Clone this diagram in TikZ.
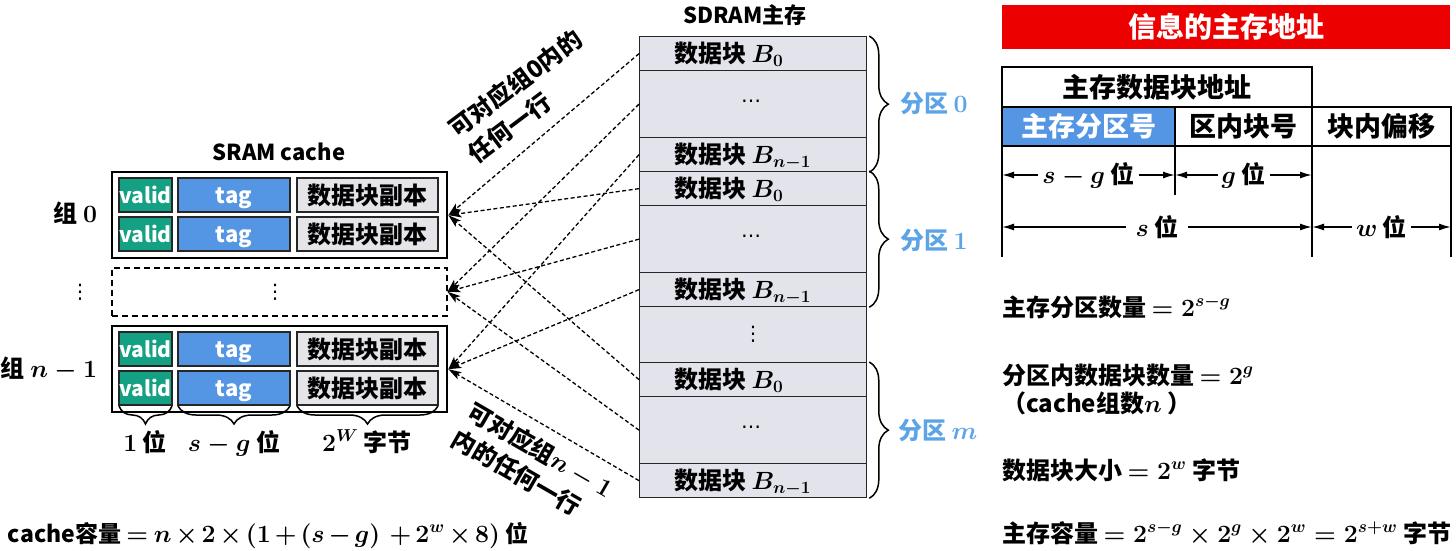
\documentclass[tikz,border=0pt]{standalone}
\usepackage{amsmath}
\usepackage[no-math]{fontspec}
\setmainfont{Noto Sans CJK SC}
\newfontfamily\dejavu{DejaVu Sans}
\usetikzlibrary{decorations.pathreplacing,arrows.meta}
\definecolor{validc}{RGB}{20,160,130}
\definecolor{tagc}{RGB}{84,150,228}
\definecolor{datac}{RGB}{228,228,233}
\definecolor{rowc}{RGB}{227,227,236}
\definecolor{partc}{RGB}{92,164,230}
\definecolor{bannerc}{RGB}{236,0,0}
\begin{document}
\boldmath
\begin{tikzpicture}[x=1pt,y=-1pt,
  base/.style={inner sep=0pt, outer sep=0pt, font=\fontsize{24}{32}\selectfont\bfseries},
  grpbox/.style={draw=black, line width=2.4pt, anchor=north west, minimum width=335pt, minimum height=86pt, inner sep=0pt},
  dashbox/.style={draw=black, line width=1.5pt, dash pattern=on 6pt off 4pt, anchor=north west, minimum width=335pt, minimum height=48pt, inner sep=0pt},
  cellbase/.style={base, draw=black!85, line width=1.3pt, anchor=north west, minimum height=34pt},
  vcell/.style={cellbase, fill=validc, text=white, minimum width=53pt, text height=16pt, text depth=0pt, font=\fontsize{21}{24}\selectfont\bfseries},
  tcell/.style={cellbase, fill=tagc, text=white, minimum width=112pt, text height=16pt, text depth=0pt, font=\fontsize{22}{24}\selectfont\bfseries},
  dcell/.style={cellbase, fill=datac, minimum width=141pt},
  mrow/.style={draw=black!85, line width=1.3pt, fill=rowc, anchor=north west, minimum width=227pt, inner sep=0pt},
  mtext/.style={base, anchor=base west},
  dotsym/.style={inner sep=0pt, font=\fontsize{20}{24}\selectfont\dejavu},
  brcr/.style={decorate, decoration={brace, amplitude=19pt}, line width=1.5pt},
  brcd/.style={decorate, decoration={brace, mirror, amplitude=18pt}, line width=1.5pt},
  mapto/.style={-{Stealth[length=13pt,width=8pt,inset=3pt]}, line width=1.3pt, dash pattern=on 4pt off 2.5pt},
  tcellr/.style={base, draw=black, line width=1.6pt, anchor=north west, minimum height=39pt, font=\fontsize{27}{30}\selectfont\bfseries},
  tline/.style={draw=black, line width=1.6pt},
  dimarr/.style={{Latex[length=12pt,width=7pt]}-{Latex[length=12pt,width=7pt]}, line width=1.6pt},
  dimlbl/.style={base, fill=white, inner xsep=4pt, inner ysep=2pt},
  formula/.style={base, anchor=base west},
  partlbl/.style={base, anchor=base west, text=partc}
]
\useasboundingbox (0,0) rectangle (1456,551);

% ---------------- SRAM cache ----------------
\node[base, font=\fontsize{22}{26}\selectfont\bfseries] (sramt) at (279,152) {SRAM cache};

\node[grpbox] (g0) at (111,171) {};
\node[vcell] (v1) at (119,178) {valid};
\node[tcell] (t1) at (178,178) {tag};
\node[dcell] (d1) at (297,178) {数据块副本};
\node[vcell] (v2) at (119,217) {valid};
\node[tcell] (t2) at (178,217) {tag};
\node[dcell] (d2) at (297,217) {数据块副本};

\node[dashbox] (gd) at (111,267) {};
\node[dotsym] (gddots) at (275,292) {⋮};
\node[dotsym] (ldots) at (80,292) {⋮};

\node[grpbox] (gn) at (111,325) {};
\node[vcell] (v3) at (119,332) {valid};
\node[tcell] (t3) at (178,332) {tag};
\node[dcell] (d3) at (297,332) {数据块副本};
\node[vcell] (v4) at (119,371) {valid};
\node[tcell] (t4) at (178,371) {tag};
\node[dcell] (d4) at (297,371) {数据块副本};

\node[base, anchor=base east] (lg0) at (97,222) {组 $0$};
\node[base, anchor=base east] (lgn) at (97,377) {组 $n-1$};

\draw[brcd] ([yshift=-1pt]v4.south west) -- ([yshift=-1pt]v4.south east);
\draw[brcd] ([yshift=-1pt]t4.south west) -- ([yshift=-1pt]t4.south east);
\draw[brcd] ([yshift=-1pt]d4.south west) -- ([yshift=-1pt]d4.south east);
\node[base, anchor=base] (b1) at (145,451) {$1$ 位};
\node[base, anchor=base] (b2) at (234,451) {$s-g$ 位};
\node[base, anchor=base] (b3) at (367,451) {$2^{W}$ 字节};

\node[base, anchor=base west, font=\fontsize{23}{28}\selectfont\bfseries] (capc) at (8,542) {\medmuskip=2.5mu\relax\thickmuskip=3.5mu\relax cache容量 $= n\times 2\times (1+(s-g)\;+2^{w}\times 8)$ 位};

% ---------------- SDRAM ----------------
\node[base, font=\fontsize{22}{26}\selectfont\bfseries] (sdramt) at (745,15) {SDRAM主存};

\node[mrow, minimum height=34pt] (p0a) at (639,36) {};
\node[mrow, minimum height=67pt] (p0b) at (639,70) {};
\node[mrow, minimum height=34pt] (p0c) at (639,137) {};
\node[mrow, minimum height=34pt] (p1a) at (639,171) {};
\node[mrow, minimum height=67pt] (p1b) at (639,205) {};
\node[mrow, minimum height=34pt] (p1c) at (639,272) {};
\node[mrow, minimum height=56pt] (pv) at (639,306) {};
\node[mrow, minimum height=34pt] (pma) at (639,362) {};
\node[mrow, minimum height=67pt] (pmb) at (639,396) {};
\node[mrow, minimum height=34pt] (pmc) at (639,463) {};

\node[mtext] at ([xshift=35pt,yshift=-9pt]p0a.west) {数据块 $B_{0}$};
\node[dotsym] at ([xshift=-2pt]p0b.center) {⋯};
\node[mtext] at ([xshift=35pt,yshift=-9pt]p0c.west) {数据块 $B_{n-1}$};
\node[mtext] at ([xshift=35pt,yshift=-9pt]p1a.west) {数据块 $B_{0}$};
\node[dotsym] at ([xshift=-2pt]p1b.center) {⋯};
\node[mtext] at ([xshift=35pt,yshift=-9pt]p1c.west) {数据块 $B_{n-1}$};
\node[dotsym] at (pv.center) {⋮};
\node[mtext] at ([xshift=35pt,yshift=-9pt]pma.west) {数据块 $B_{0}$};
\node[dotsym] at ([xshift=-2pt]pmb.center) {⋯};
\node[mtext] at ([xshift=35pt,yshift=-9pt]pmc.west) {数据块 $B_{n-1}$};

\draw[brcr] ([xshift=2pt]p0a.north east) -- ([xshift=2pt]p0c.south east);
\draw[brcr] ([xshift=2pt]p1a.north east) -- ([xshift=2pt]p1c.south east);
\draw[brcr] ([xshift=2pt]pma.north east) -- ([xshift=2pt]pmc.south east);
\node[partlbl] (pl0) at (900,112) {分区 $0$};
\node[partlbl] (pl1) at (900,249) {分区 $1$};
\node[partlbl] (plm) at (898,439) {分区 $m$};

% ---------------- mapping arrows ----------------
\draw[mapto] (p0a.west) -- (g0.east);
\draw[mapto] (p0b.west) -- (gd.east);
\draw[mapto] (p0c.west) -- (gn.east);
\draw[mapto] (p1a.west) -- (g0.east);
\draw[mapto] (p1b.west) -- (gd.east);
\draw[mapto] (p1c.west) -- (gn.east);
\draw[mapto] (pma.west) -- (g0.east);
\draw[mapto] (pmb.west) -- (gd.east);
\draw[mapto] (pmc.west) -- (gn.east);

\node[base, rotate=37, anchor=north west, align=left] (lab1) at (445,122) {可对应组0内的\\任何一行};
\node[base, rotate=-30, anchor=north west, align=left] (lab2) at (476,399) {可对应组$n-1$\\内的任何一行};

% ---------------- address format ----------------
\node[base, fill=bannerc, text=white, anchor=north west, minimum width=448pt, minimum height=44pt, font=\fontsize{28}{32}\selectfont\bfseries] (banner) at (1002,5) {信息的主存地址};

\node[tcellr, minimum width=310pt, minimum height=40pt] (hdr) at (1002,67) {主存数据块地址};
\node[tcellr, minimum width=173pt, fill=tagc, text=white] (c1) at (1002,107) {主存分区号};
\node[tcellr, minimum width=137pt] (c2) at (1175,107) {区内块号};
\node[tcellr, minimum width=139pt] (c3) at (1312,107) {块内偏移};

\coordinate (e1) at (1002,257);
\coordinate (e2) at (1175,195);
\coordinate (e3) at (1312,257);
\coordinate (e4) at (1451,257);
\draw[tline] (c1.south west) -- (e1);
\draw[tline] (c1.south east) -- (e2);
\draw[tline] (c2.south east) -- (e3);
\draw[tline] (c3.south east) -- (e4);

\coordinate (a0) at (1002,175);
\coordinate (a1) at (1175,175);
\coordinate (a2) at (1312,175);
\coordinate (s0) at (1002,227);
\coordinate (s1) at (1312,227);
\coordinate (s2) at (1451,227);
\draw[dimarr] (a0) -- (a1) node[dimlbl, midway] (la1) {$s-g$ 位};
\draw[dimarr] (a1) -- (a2) node[dimlbl, midway] (la2) {$g$ 位};
\draw[dimarr] (s0) -- (s1) node[dimlbl, midway, inner xsep=10pt] (ls1) {$s$ 位};
\draw[dimarr] (s1) -- (s2) node[dimlbl, midway] (ls2) {$w$ 位};

\node[formula] (f1) at (1002,316) {主存分区数量 $= 2^{s-g}$};
\node[formula] (f2) at (1002,384) {分区内数据块数量 $= 2^{g}$};
\node[formula] (f3) at (1002,412) {（cache组数$n$ ）};
\node[formula] (f4) at (1002,479) {数据块大小 $= 2^{w}$ 字节};
\node[formula] (f5) at (1002,542) {主存容量 $= 2^{s-g}\times 2^{g}\times 2^{w} = 2^{s+w}$ 字节};
\end{tikzpicture}
\end{document}
